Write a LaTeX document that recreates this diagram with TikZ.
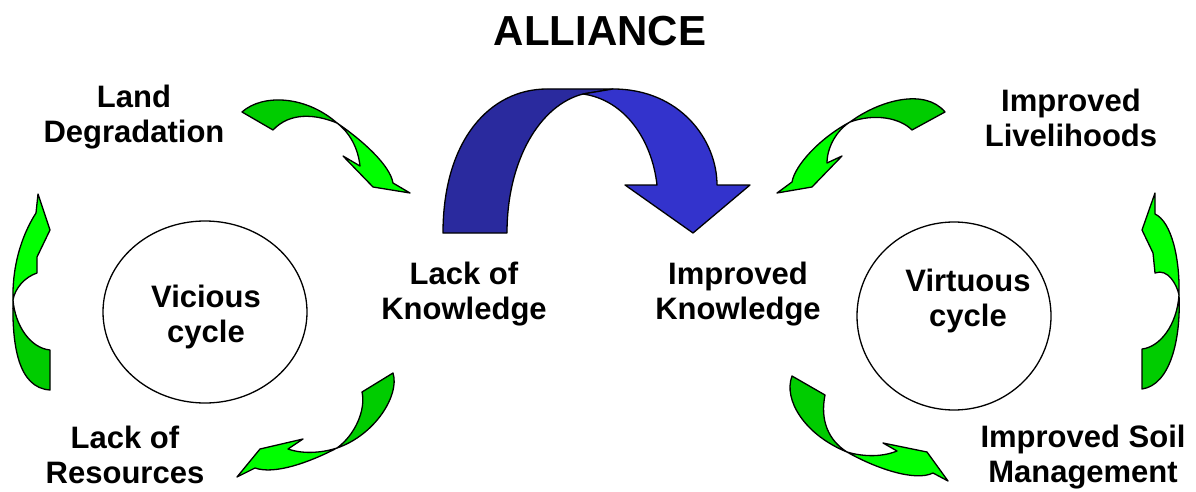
\documentclass[tikz,border=0pt]{standalone}
\usepackage{fontspec}
\setmainfont{Liberation Sans}
\usepackage{xcolor}
\definecolor{greenback}{HTML}{00CC00}
\definecolor{greenfront}{HTML}{00FF00}
\definecolor{blueback}{HTML}{2A2A9E}
\definecolor{bluefront}{HTML}{3333CC}
\usepackage{tikz}
\usetikzlibrary{shapes.geometric}
\usetikzlibrary{positioning}
\tikzstyle{caption} = [font=\bfseries\fontsize{31}{35}\selectfont, align=center, inner sep=0pt]
\tikzstyle{ring} = [ellipse, draw, line width=1.3pt, inner sep=0pt]
\tikzstyle{back} = [draw, line width=1.3pt, line join=round, fill=greenback]
\tikzstyle{front} = [draw, line width=1.3pt, line join=round, fill=greenfront]

\begin{document}
\begin{tikzpicture}[x=1pt,y=-1pt]
    \useasboundingbox (0,0) rectangle (1196,492);
    % Place nodes
    \node[caption,font=\bfseries\fontsize{42}{46}\selectfont] (alliance) at (600,31) {ALLIANCE};

    \node[ring,minimum width=204pt,minimum height=182pt] (vicring) at (205,312) {};
    \node[ring,minimum width=194pt,minimum height=188pt] (virring) at (954,316) {};
    \node[caption] (vicious) at (206,317) {Vicious\\cycle};
    \node[caption] (virtuous) at (968,301) {Virtuous\\cycle};

    \node[caption] (ld) at (134,117) {Land\\Degradation};
    \node[caption] (lr) at (125,455) {Lack of\\Resources};
    \node[caption] (lk) at (464,294) {Lack of\\Knowledge};
    \node[caption] (ik) at (738,294) {Improved\\Knowledge};
    \node[caption] (il) at (1071,118) {Improved\\Livelihoods};
    \node[caption] (isl) at (1083,457) {Improved Soil\\Management};

    % Draw arrows
    % ld -> lk
    \path[back] (242,112) .. controls (262,94) and (305,95) .. (337,123)
        .. controls (315,114) and (290,112) .. (273,130) -- cycle;
    \path[front] (337,123) .. controls (362,140) and (390,165) .. (393,183) -- (410,193) -- (373,187)
        -- (343,156) -- (360,166) .. controls (358,148) and (350,133) .. (337,123) -- cycle;
    % lr -> ld
    \path[back] (50,390) .. controls (18,388) and (12,345) .. (13,300)
        .. controls (15,325) and (30,348) .. (50,350) -- cycle;
    \path[front] (13,300) .. controls (12,260) and (25,230) .. (36,213) -- (38,194) -- (50,230)
        -- (37,257) -- (37,273) .. controls (25,277) and (15,288) .. (13,300) -- cycle;
    % lk -> lr
    \path[back] (393,373) .. controls (400,395) and (375,435) .. (337,448)
        .. controls (355,435) and (366,410) .. (362,392) -- cycle;
    \path[front] (337,448) .. controls (310,462) and (275,475) .. (255,468) -- (237,477) -- (260,449)
        -- (303,439) -- (288,449) .. controls (305,455) and (325,452) .. (337,448) -- cycle;
    % lk -> ik
    \path[back,fill=blueback] (443,233) .. controls (443,140) and (490,89) .. (547,89) -- (613,89)
        -- (583,94) .. controls (540,105) and (507,160) .. (507,233) -- cycle;
    \path[front,fill=bluefront] (583,94) -- (613,89) .. controls (680,89) and (717,140) .. (717,185)
        -- (750,185) -- (693,233) -- (625,185) -- (657,185)
        .. controls (652,140) and (625,100) .. (583,94) -- cycle;
    % il -> ik
    \path[back] (850,122) .. controls (880,100) and (925,88) .. (945,112) -- (912,130)
        .. controls (900,118) and (875,113) .. (850,122) -- cycle;
    \path[front] (850,122) .. controls (820,138) and (795,165) .. (792,182) -- (777,193) -- (812,187)
        -- (842,156) -- (827,163) .. controls (827,147) and (837,130) .. (850,122) -- cycle;
    % isl -> il
    \path[back] (1179,295) .. controls (1181,340) and (1170,385) .. (1142,389) -- (1142,349)
        .. controls (1160,347) and (1177,325) .. (1179,295) -- cycle;
    \path[front] (1179,295) .. controls (1180,260) and (1172,222) .. (1155,214) -- (1155,193) -- (1142,230)
        -- (1153,253) -- (1155,273) .. controls (1168,268) and (1177,285) .. (1179,295) -- cycle;
    % ik -> isl
    \path[back] (792,376) .. controls (783,400) and (805,435) .. (847,452)
        .. controls (828,440) and (820,420) .. (825,395) -- cycle;
    \path[front] (847,452) .. controls (875,468) and (915,482) .. (933,473) -- (948,481) -- (927,452)
        -- (883,443) -- (897,451) .. controls (880,458) and (860,456) .. (847,452) -- cycle;
\end{tikzpicture}
\end{document}
